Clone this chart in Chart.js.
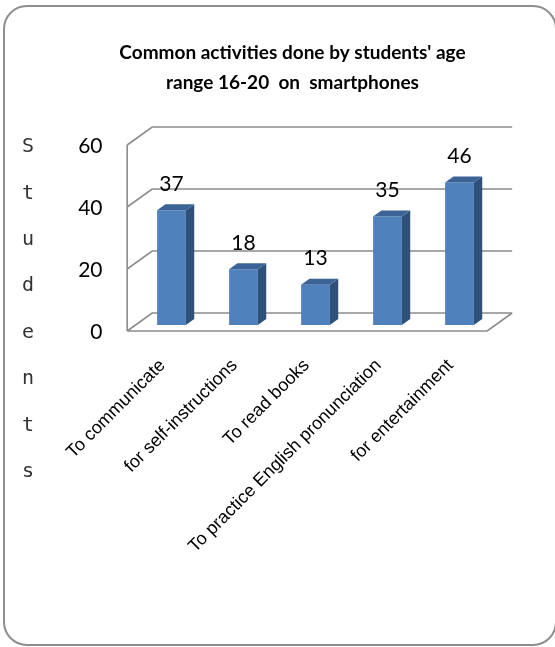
<!DOCTYPE html>
<html lang="en">
<head>
    <meta charset="UTF-8">
    <title>Common activities on smartphones</title>
    <script src="https://cdn.jsdelivr.net/npm/chart.js"></script>
    <style>
        body {
            margin: 0;
            background-color: #fff;
            overflow: hidden;
        }
        .frame {
            position: absolute;
            left: 3px;
            top: 5px;
            width: 554px;
            height: 641px;
            box-sizing: border-box;
            border: 2px solid #8e8e8e;
            border-radius: 24px;
        }
        #activityChart {
            position: absolute;
            left: 0;
            top: 0;
        }
    </style>
</head>
<body>
    <div class="frame"></div>
    <canvas id="activityChart" width="555" height="647"></canvas>

    <script>
        const categories = [
            'To communicate',
            'for self-instructions',
            'To read books',
            'To practice English pronunciation',
            'for entertainment'
        ];
        const students = [37, 18, 13, 35, 46];
        const yTicks = [0, 20, 40, 60];
        const titleLines = ["Common activities done by students' age", 'range 16-20  on  smartphones'];
        const axisTitle = 'Students';

        // depth of the floor / side wall, and how much of it a bar takes
        const depth = { x: 25, y: -18 };
        const barDepth = 1 / 3;

        const bar3d = {
            id: 'bar3d',
            beforeDatasetsDraw(chart) {
                const { ctx, chartArea: a, scales: { y } } = chart;
                const fx = -depth.x * barDepth, fy = -depth.y * barDepth;
                const bx = depth.x * (1 - barDepth), by = depth.y * (1 - barDepth);
                const p0 = y.getPixelForValue(y.min);
                const pTop = y.getPixelForValue(y.max);
                ctx.save();
                ctx.strokeStyle = '#8c8c8c';
                ctx.lineWidth = 1.6;
                ctx.beginPath();
                // side wall + back wall grid lines
                yTicks.forEach(v => {
                    const py = y.getPixelForValue(v);
                    ctx.moveTo(a.left + fx, py + fy);
                    ctx.lineTo(a.left + bx, py + by);
                    ctx.lineTo(a.right + bx, py + by);
                });
                // front edge of side wall
                ctx.moveTo(a.left + fx, pTop + fy);
                ctx.lineTo(a.left + fx, p0 + fy);
                // floor
                ctx.moveTo(a.left + fx, p0 + fy);
                ctx.lineTo(a.right + fx, p0 + fy);
                ctx.lineTo(a.right + bx, p0 + by);
                ctx.stroke();
                ctx.restore();
            },
            afterDatasetsDraw(chart) {
                const { ctx } = chart;
                const dx = depth.x * barDepth, dy = depth.y * barDepth;
                const meta = chart.getDatasetMeta(0);
                ctx.save();
                meta.data.forEach((bar, i) => {
                    const l = bar.x - bar.width / 2, r = bar.x + bar.width / 2;
                    const top = bar.y, base = bar.base;
                    // right side
                    ctx.fillStyle = '#2f5079';
                    ctx.beginPath();
                    ctx.moveTo(r, top);
                    ctx.lineTo(r + dx, top + dy);
                    ctx.lineTo(r + dx, base + dy);
                    ctx.lineTo(r, base);
                    ctx.closePath();
                    ctx.fill();
                    // top
                    ctx.fillStyle = '#3b6395';
                    ctx.beginPath();
                    ctx.moveTo(l, top);
                    ctx.lineTo(l + dx, top + dy);
                    ctx.lineTo(r + dx, top + dy);
                    ctx.lineTo(r, top);
                    ctx.closePath();
                    ctx.fill();
                    // value label
                    ctx.fillStyle = '#000';
                    ctx.font = '21px Lato';
                    ctx.textAlign = 'center';
                    ctx.textBaseline = 'middle';
                    ctx.fillText(String(students[i]), bar.x, top - 26);
                });
                ctx.restore();
            },
            afterDraw(chart) {
                const { ctx } = chart;
                ctx.save();
                // two-line heading
                ctx.fillStyle = '#000';
                ctx.font = 'bold 19px Lato';
                ctx.textAlign = 'center';
                ctx.textBaseline = 'alphabetic';
                titleLines.forEach((line, i) => {
                    ctx.fillText(line, 292.5, 59 + i * 30);
                });
                // vertical, letter-by-letter axis title
                ctx.fillStyle = '#333';
                ctx.font = '20px "DejaVu Sans Mono"';
                ctx.textBaseline = 'middle';
                [...axisTitle].forEach((ch, i) => {
                    ctx.fillText(ch, 28, 147 + i * 46.4);
                });
                ctx.restore();
            }
        };

        new Chart(document.getElementById('activityChart'), {
            type: 'bar',
            data: {
                labels: categories,
                datasets: [{
                    data: students,
                    backgroundColor: '#4f81bd',
                    borderWidth: 0,
                    barPercentage: 0.4,
                    categoryPercentage: 1
                }]
            },
            options: {
                responsive: false,
                animation: false,
                devicePixelRatio: 1,
                layout: {
                    padding: { left: 0, right: 59.5, top: 139, bottom: 0 }
                },
                plugins: {
                    legend: { display: false },
                    tooltip: { enabled: false },
                    title: { display: false }
                },
                scales: {
                    x: {
                        grid: { display: false, drawTicks: false },
                        border: { display: false },
                        ticks: {
                            color: '#000',
                            font: { family: 'Liberation Sans', size: 18 },
                            minRotation: 45,
                            maxRotation: 45,
                            autoSkip: false,
                            padding: 30,
                            labelOffset: -9
                        },
                        afterFit(s) {
                            s.height = 322;
                            s.paddingLeft = 0;
                            s.paddingRight = 0;
                        }
                    },
                    y: {
                        min: 0,
                        max: 60,
                        grid: { display: false, drawTicks: false },
                        border: { display: false },
                        ticks: {
                            stepSize: 20,
                            color: '#000',
                            font: { family: 'Lato', size: 21 },
                            padding: 33,
                            labelOffset: 7
                        },
                        afterFit(s) {
                            s.width = 135.5;
                        }
                    }
                }
            },
            plugins: [bar3d]
        });
    </script>
</body>
</html>
